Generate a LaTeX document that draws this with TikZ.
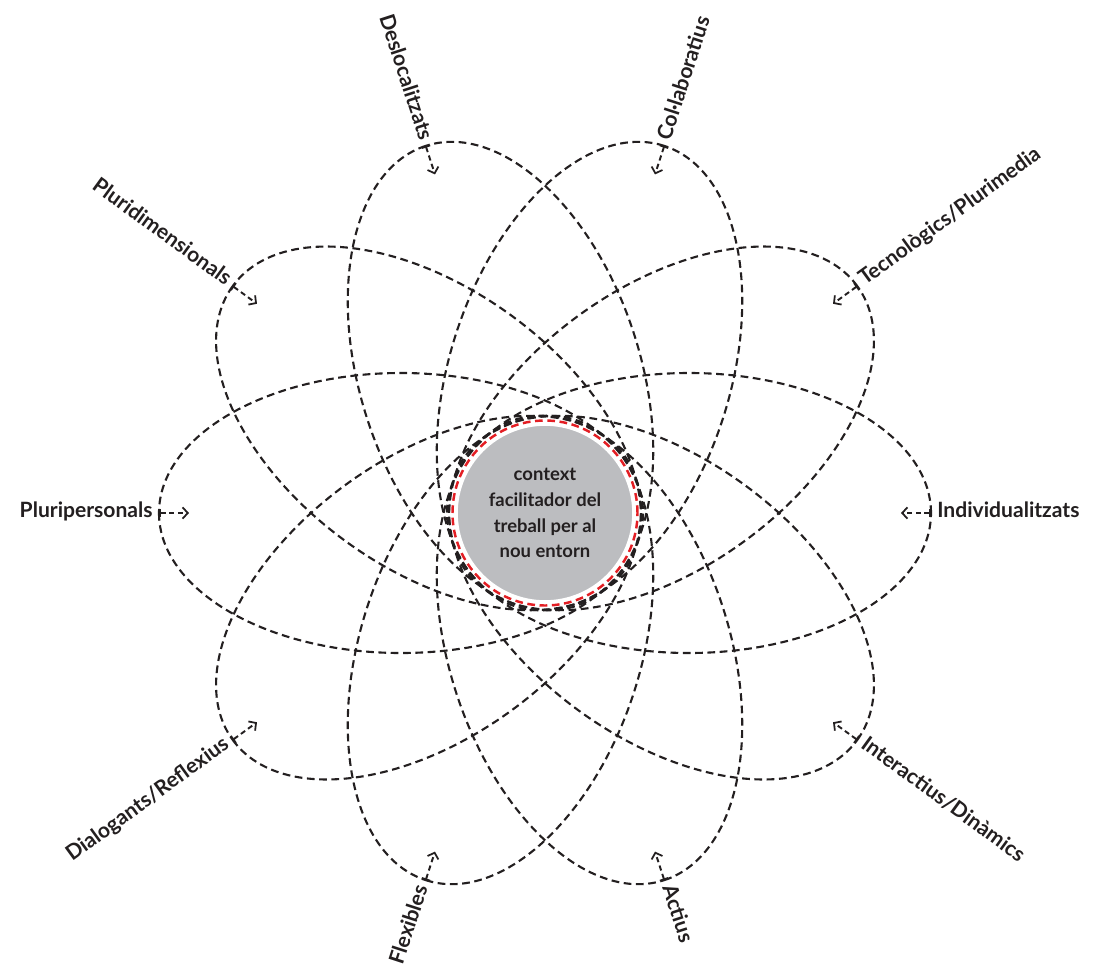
\documentclass[tikz,border=0pt]{standalone}
\usepackage{fontspec}
\setmainfont{Lato}
\usetikzlibrary{arrows.meta}
\definecolor{ink}{HTML}{231F20}
\definecolor{discgray}{HTML}{BCBDC0}
\definecolor{ringred}{HTML}{E31E24}
\tikzset{
  petal/.style={ink, line width=1.2pt, dash pattern=on 4.4pt off 2.6pt},
  pointer/.style={ink, line width=1.1pt, dash pattern=on 3pt off 2pt,
    {Bar[width=5pt,line width=1pt]}-{Straight Barb[length=3pt,width=6.5pt,line width=1pt]}},
  petallabel/.style={text=ink, font=\fontsize{12}{14}\selectfont\bfseries, inner sep=0pt},
}

\begin{document}
\begin{tikzpicture}[x=0.02cm,y=0.02cm]
\useasboundingbox (-545,513) rectangle (556,-452);
% ten petals round the centre
\foreach \a in {0,36,...,324}
  \draw[petal, rotate=\a] (144,0) ellipse [x radius=242, y radius=140];
\filldraw[fill=discgray, draw=white, line width=1.5pt] (0,0) circle (88.5);
\draw[ringred, line width=1.4pt, dash pattern=on 4.4pt off 2.6pt] (0,0) circle (92.5);
\node[text=ink, align=center, font=\fontsize{10.5}{14.7}\selectfont\bfseries] (centre) at (0,0)
  {context\\facilitador del\\treball per al\\nou entorn};
% labels and pointers at the outer tips
\foreach \a/\txt/\rot/\anc in {0/Individualitzats/0/mid west,
    36/Tecnològics\slash Plurimedia/36/mid west,
    72/Col·laboratius/72/mid west,
    108/Deslocalitzats/-72/mid east,
    144/Pluridimensionals/-36/mid east,
    180/Pluripersonals/0/mid east,
    216/Dialogants\slash Reflexius/36/mid east,
    252/Flexibles/72/mid east,
    288/Actius/-72/mid west,
    324/Interactius\slash Dinàmics/-36/mid west}
{
  \coordinate (tip\a) at (\a:386);
  \coordinate (head\a) at (\a:356);
  \node[petallabel, rotate=\rot, anchor=\anc] (lbl\a) at (\a:392) {\txt};
  \draw[pointer] (tip\a) -- (head\a);
}
\end{tikzpicture}
\end{document}
